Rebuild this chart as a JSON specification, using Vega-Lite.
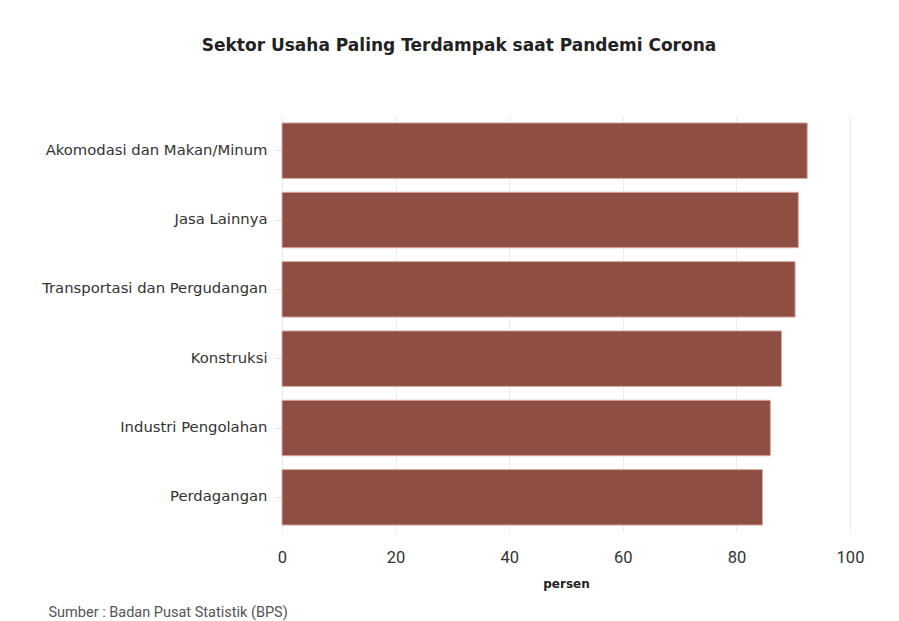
{
  "$schema": "https://vega.github.io/schema/vega-lite/v6.json",
  "width": 568,
  "height": 416,
  "autosize": {"type": "none"},
  "padding": {"left": 282, "top": 116, "right": 49, "bottom": 89},
  "background": "white",
  "title": {
    "text": "Sektor Usaha Paling Terdampak saat Pandemi Corona",
    "font": "DejaVu Sans",
    "fontSize": 17,
    "fontWeight": "bold",
    "color": "#222222",
    "anchor": "middle",
    "dx": -107,
    "offset": 61
  },
  "data": {
    "values": [
      {"sektor": "Akomodasi dan Makan/Minum", "persen": 92.47},
      {"sektor": "Jasa Lainnya", "persen": 90.90},
      {"sektor": "Transportasi dan Pergudangan", "persen": 90.34},
      {"sektor": "Konstruksi", "persen": 87.94},
      {"sektor": "Industri Pengolahan", "persen": 85.98},
      {"sektor": "Perdagangan", "persen": 84.60}
    ]
  },
  "mark": {"type": "bar", "color": "#8f4e42", "stroke": "#d8aaa2", "strokeWidth": 1},
  "encoding": {
    "y": {
      "field": "sektor",
      "type": "nominal",
      "sort": null,
      "scale": {"paddingInner": 0.2, "paddingOuter": 0.1},
      "axis": {
        "title": "Sumber : Badan Pusat Statistik (BPS)",
        "titleFont": "Roboto",
        "titleFontSize": 14.5,
        "titleFontWeight": "normal",
        "titleColor": "#555555",
        "titleAngle": 0,
        "titleAlign": "left",
        "titleBaseline": "middle",
        "titleX": -234,
        "titleY": 496,
        "labelFont": "DejaVu Sans",
        "labelFontSize": 14.8,
        "labelLimit": 0,
        "labelColor": "#333333",
        "labelPadding": 9,
        "tickSize": 6,
        "tickColor": "#dddddd",
        "domain": false,
        "grid": false
      }
    },
    "x": {
      "field": "persen",
      "type": "quantitative",
      "scale": {"domain": [0, 100], "nice": false},
      "axis": {
        "title": "persen",
        "titleFont": "DejaVu Sans",
        "titleFontSize": 12,
        "titleFontWeight": "bold",
        "titleColor": "#222222",
        "titlePadding": 13,
        "values": [0, 20, 40, 60, 80, 100],
        "labelFont": "Roboto",
        "labelFontSize": 16.5,
        "labelFlush": false,
        "labelColor": "#333333",
        "labelPadding": 17,
        "ticks": false,
        "domain": false,
        "grid": true,
        "gridColor": "#ececec",
        "gridWidth": 1
      }
    }
  },
  "config": {"view": {"stroke": null}}
}
